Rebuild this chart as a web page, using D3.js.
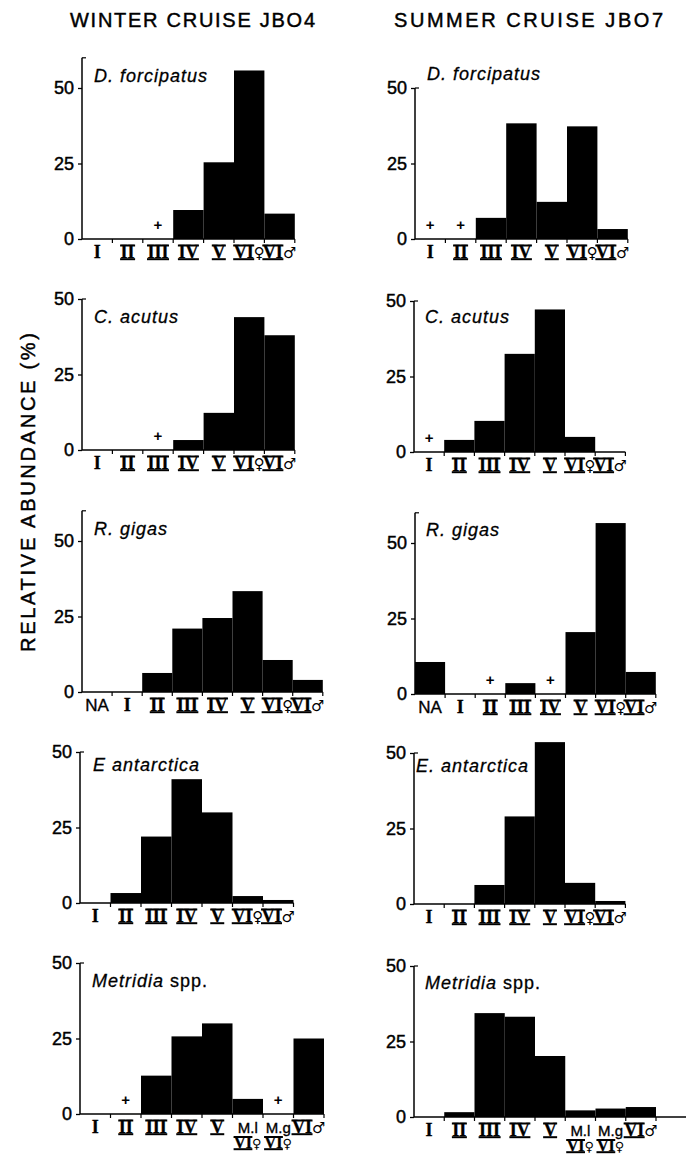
<!DOCTYPE html>
<html><head><meta charset="utf-8">
<script src="https://cdn.jsdelivr.net/npm/d3@7"></script>
<style>body{margin:0;background:#fff} svg{display:block}</style>
</head><body><svg id="c" width="692" height="1157"></svg>
<script>
// ---------- data ----------
const seasonTitles = ["WINTER CRUISE JBO4", "SUMMER CRUISE JBO7"];
const yAxisTitle = "RELATIVE ABUNDANCE (%)";
const speciesWinter = ["D. forcipatus", "C. acutus", "R. gigas", "E antarctica", "Metridia| spp."];
const speciesSummer = ["D. forcipatus", "C. acutus", "R. gigas", "E. antarctica", "Metridia| spp."];

const stagesStd = ["I", "II", "III", "IV", "V", "VI♀", "VI♂"];
const stagesRgigas = ["NA", "I", "II", "III", "IV", "V", "VI♀", "VI♂"];
const stagesMetridia = ["I", "II", "III", "IV", "V", "M.l|VI♀", "M.g|VI♀", "VI♂"];

const yTicks = [0, 25, 50];

const winterDforc = [0, 0, 0, 9.6, 25.4, 55.8, 8.4];
const summerDforc = [0, 0, 7, 38.3, 12.3, 37.3, 3.3];
const winterCacut = [0, 0, 0, 3.3, 12.3, 44, 38];
const summerCacut = [0, 4, 10.3, 32.5, 47.2, 5, 0];
const winterRgig = [0, 0, 6.3, 21, 24.5, 33.4, 10.6, 4];
const summerRgig = [10.6, 0, 0, 3.6, 0, 20.5, 56.6, 7.3];
const winterEant = [0, 3.3, 22, 41, 30, 2.3, 1];
const summerEant = [0, 0, 6.3, 29, 53.6, 7, 1];
const winterMetr = [0, 0, 12.7, 25.7, 30, 5, 0, 25];
const summerMetr = [0, 1.6, 34.4, 33.2, 20.2, 2.2, 2.8, 3.3];

// stages present only in trace amounts ("+")
const traceWinterDforc = ["III"];
const traceSummerDforc = ["I", "II"];
const traceWinterCacut = ["III"];
const traceSummerCacut = ["I"];
const traceWinterRgig = [];
const traceSummerRgig = ["II", "IV"];
const traceWinterEant = [];
const traceSummerEant = [];
const traceWinterMetr = ["II", "M.g|VI♀"];
const traceSummerMetr = [];
</script>
<script>
// ---------- layout ----------
const svg = d3.select("#c");
const INK = "#000";
const SANS = "'Liberation Sans', Arial, sans-serif";
const SERIF = "'Liberation Serif', 'Times New Roman', serif";
const HEAVY = 0.45; // stroke to mimic the heavier print

const unit50 = 151; // pixels for 50 %
const layout = [
  // left column
  {ax: 82, y0: 239, bw: 30.4, ymax: 60, lblDx: 12, lblDy: -6},
  {ax: 82, y0: 450, bw: 30.4, ymax: 50, lblDx: 12, lblDy: 24},
  {ax: 82, y0: 692, bw: 30.1, ymax: 60, lblDx: 12, lblDy: -6},
  {ax: 80, y0: 903, bw: 30.5, ymax: 50, lblDx: 13, lblDy: 19},
  {ax: 80, y0: 1114, bw: 30.5, ymax: 50, lblDx: 12, lblDy: 24},
  // right column
  {ax: 415, y0: 239, bw: 30.4, ymax: 50, lblDx: 12, lblDy: -8},
  {ax: 414, y0: 452, bw: 30.2, ymax: 50, lblDx: 11, lblDy: 22},
  {ax: 415, y0: 694, bw: 30.1, ymax: 60, lblDx: 11, lblDy: -7},
  {ax: 414, y0: 904, bw: 30.2, ymax: 50, lblDx: 2, lblDy: 19},
  {ax: 414, y0: 1117, bw: 30.25, ymax: 50, lblDx: 11, lblDy: 23, xExtend: 686}
];

const panels = [
  {name: speciesWinter[0], cats: stagesStd, vals: winterDforc, trace: traceWinterDforc},
  {name: speciesWinter[1], cats: stagesStd, vals: winterCacut, trace: traceWinterCacut},
  {name: speciesWinter[2], cats: stagesRgigas, vals: winterRgig, trace: traceWinterRgig},
  {name: speciesWinter[3], cats: stagesStd, vals: winterEant, trace: traceWinterEant},
  {name: speciesWinter[4], cats: stagesMetridia, vals: winterMetr, trace: traceWinterMetr},
  {name: speciesSummer[0], cats: stagesStd, vals: summerDforc, trace: traceSummerDforc},
  {name: speciesSummer[1], cats: stagesStd, vals: summerCacut, trace: traceSummerCacut},
  {name: speciesSummer[2], cats: stagesRgigas, vals: summerRgig, trace: traceSummerRgig},
  {name: speciesSummer[3], cats: stagesStd, vals: summerEant, trace: traceSummerEant},
  {name: speciesSummer[4], cats: stagesMetridia, vals: summerMetr, trace: traceSummerMetr}
];

function heavy(sel, w) { return sel.attr("stroke", INK).attr("stroke-width", w || HEAVY); }

// titles
heavy(svg.append("text").attr("x", 70).attr("y", 27).attr("textLength", 245).attr("lengthAdjust", "spacing")
  .attr("font-family", SANS).attr("font-size", 20).attr("fill", INK).text(seasonTitles[0]));
heavy(svg.append("text").attr("x", 394).attr("y", 27).attr("textLength", 269).attr("lengthAdjust", "spacing")
  .attr("font-family", SANS).attr("font-size", 20).attr("fill", INK).text(seasonTitles[1]));
heavy(svg.append("text").attr("transform", "translate(35,652) rotate(-90)").attr("textLength", 319).attr("lengthAdjust", "spacing")
  .attr("font-family", SANS).attr("font-size", 20).attr("fill", INK).text(yAxisTitle));

function drawLabelLine(g, str, cx, by, small) {
  const m = str.match(/^([IVX]+)(.*)$/);
  const t = g.append("text").attr("x", cx).attr("y", by).attr("text-anchor", "middle").attr("fill", INK);
  if (m && str !== "I") {
    heavy(t.append("tspan").attr("font-family", SERIF).attr("font-weight", "bold").attr("font-size", small ? 16 : 18).text(m[1]), 0.3);
    if (m[2]) t.append("tspan").attr("font-family", "'DejaVu Sans', sans-serif").attr("font-size", small ? 13 : 15).text(m[2]);
    const node = t.node();
    const x0 = node.getStartPositionOfChar(0).x;
    const w = node.getSubStringLength(0, m[1].length);
    [by - (small ? 11 : 12.5), by + 1.2].forEach(yy => {
      g.append("line").attr("x1", x0 - 0.5).attr("x2", x0 + w + 0.5).attr("y1", yy).attr("y2", yy)
        .attr("stroke", INK).attr("stroke-width", 2);
    });
  } else if (str === "I") {
    heavy(t.attr("font-family", SERIF).attr("font-weight", "bold").attr("font-size", 18).text(str), 0.3);
  } else {
    heavy(t.attr("font-family", SANS).attr("font-size", small ? 15 : 17).text(str), 0.35);
  }
}

panels.forEach((p, i) => {
  const L = layout[i];
  const g = svg.append("g");
  const x = d3.scaleBand().domain(p.cats).range([L.ax, L.ax + p.cats.length * L.bw]).padding(0);
  const y = d3.scaleLinear().domain([0, 50]).range([L.y0, L.y0 - unit50]);

  // bars
  g.selectAll("rect").data(p.cats.map((c, k) => ({c, v: p.vals[k]})).filter(d => d.v > 0))
    .join("rect")
    .attr("x", d => x(d.c)).attr("width", x.bandwidth())
    .attr("y", d => y(d.v)).attr("height", d => y(0) - y(d.v))
    .attr("fill", INK);

  // y axis
  const ya = g.append("g").attr("transform", `translate(${L.ax},0)`)
    .call(d3.axisLeft(y).tickValues(yTicks).tickSize(4).tickPadding(4).tickFormat(d3.format("d")));
  ya.select(".domain").remove();
  ya.selectAll("line").attr("stroke", INK).attr("stroke-width", 1.3);
  heavy(ya.selectAll("text").attr("font-family", SANS).attr("font-size", 18).attr("fill", INK));
  g.append("line").attr("x1", L.ax).attr("x2", L.ax).attr("y1", y(0)).attr("y2", y(L.ymax))
    .attr("stroke", INK).attr("stroke-width", 1.5);
  g.append("line").attr("x1", L.ax).attr("x2", L.ax + 4).attr("y1", y(L.ymax)).attr("y2", y(L.ymax))
    .attr("stroke", INK).attr("stroke-width", 1.2);

  // x axis line and boundary ticks
  const xEnd = L.xExtend || (x.range()[1]);
  g.append("line").attr("x1", L.ax).attr("x2", xEnd).attr("y1", y(0)).attr("y2", y(0))
    .attr("stroke", INK).attr("stroke-width", 1.5);
  const bounds = p.cats.map(c => x(c)).concat([x.range()[1]]);
  g.selectAll("line.bt").data(bounds.slice(1)).join("line").attr("class", "bt")
    .attr("x1", d => d).attr("x2", d => d).attr("y1", y(0)).attr("y2", y(0) + 4)
    .attr("stroke", INK).attr("stroke-width", 1.2);

  // stage labels
  p.cats.forEach(c => {
    const cx = x(c) + x.bandwidth() / 2;
    const lines = c.split("|");
    const two = lines.length > 1;
    lines.forEach((ln, li) => drawLabelLine(g, ln, cx, L.y0 + 19 + li * 15, two));
  });

  // trace markers
  g.selectAll("text.tr").data(p.trace).join("text").attr("class", "tr")
    .attr("x", d => x(d) + x.bandwidth() / 2).attr("y", y(0) - 9)
    .attr("text-anchor", "middle").attr("font-family", SANS).attr("font-weight", "bold")
    .attr("font-size", 15).attr("fill", INK).text("+");

  // species name (genus italic, "spp." upright)
  const parts = p.name.split("|");
  const st = g.append("text").attr("x", L.ax + L.lblDx).attr("y", y(50) + L.lblDy)
    .attr("font-family", SANS).attr("font-size", 18).attr("letter-spacing", 1).attr("fill", INK);
  heavy(st.append("tspan").attr("font-style", "italic").text(parts[0]), 0.3);
  if (parts[1]) heavy(st.append("tspan").text(parts[1]), 0.3);
});
</script>
</body></html>
